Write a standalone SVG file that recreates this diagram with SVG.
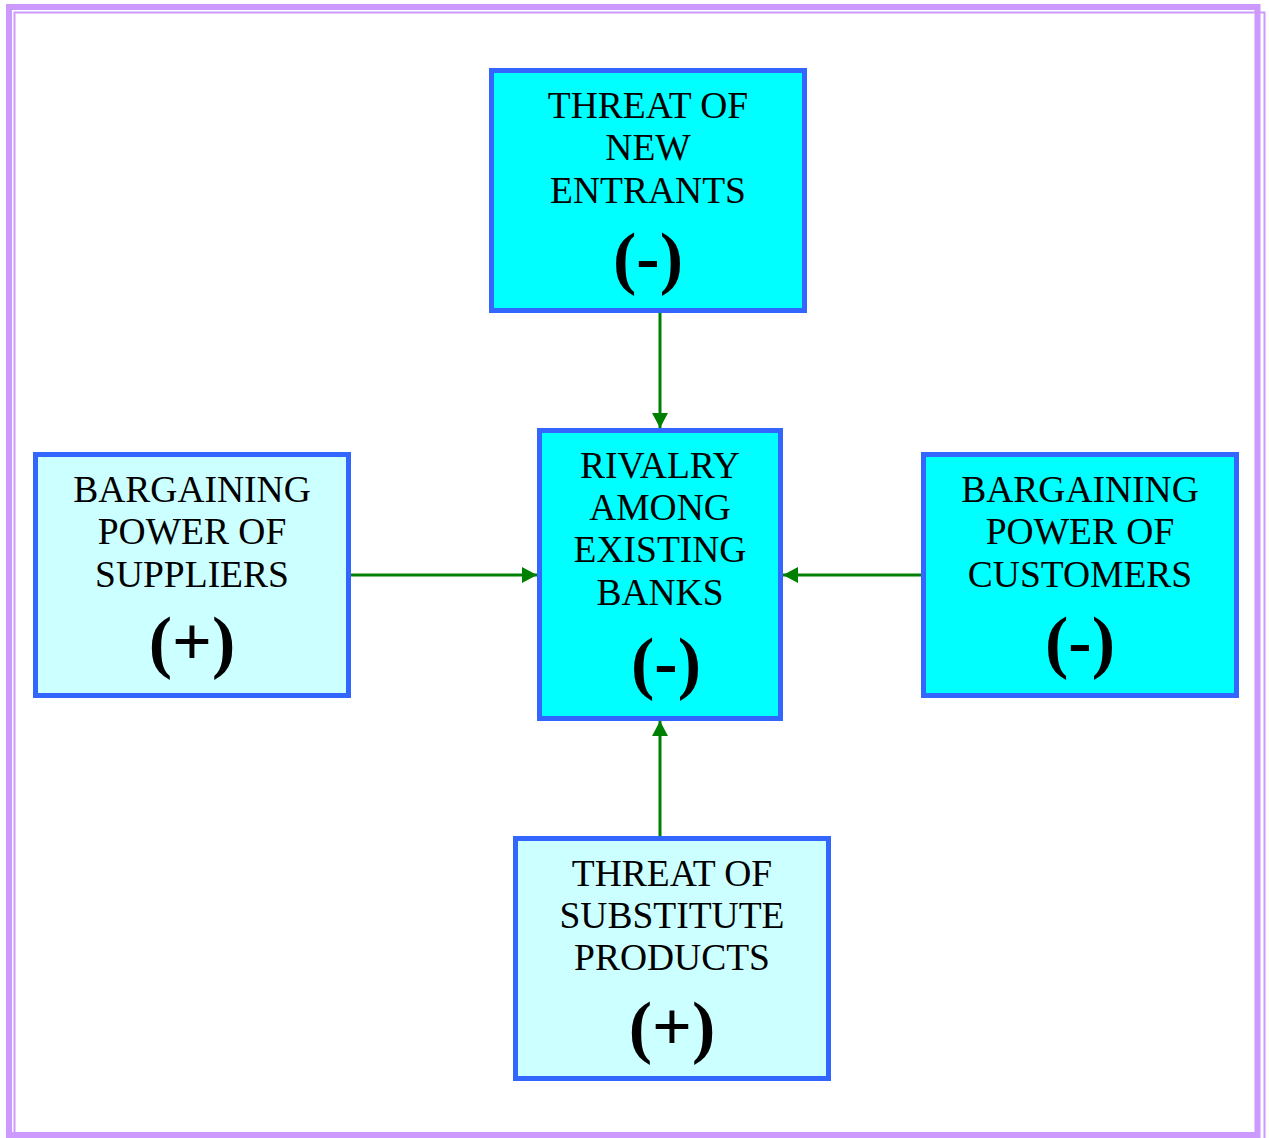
<svg xmlns="http://www.w3.org/2000/svg" width="1269" height="1138" viewBox="0 0 1269 1138">
<style>
.box{stroke:#3366FF;stroke-width:5}
.dark{fill:#00FFFF}
.light{fill:#CCFFFF}
.c{stroke:#008000;stroke-width:3;fill:none}
</style>
<defs>
<marker id="ah" markerWidth="16" markerHeight="16" viewBox="0 0 16 16" refX="15" refY="8" orient="auto" markerUnits="userSpaceOnUse">
<path d="M0,0 L15,8 L0,16 Z" fill="#008000"/>
</marker>
</defs>
<rect width="1269" height="1138" fill="#fff"/>
<g id="frame" fill="none" stroke="#CC99FF">
<rect x="9" y="7" width="1248.5" height="1128" stroke-width="6"/>
<rect x="14.5" y="12.5" width="1250" height="1135" stroke-width="2"/>
</g>
<g id="connectors">
<line class="c" x1="660" y1="313" x2="660" y2="428" marker-end="url(#ah)"/>
<line class="c" x1="351" y1="575" x2="537" y2="575" marker-end="url(#ah)"/>
<line class="c" x1="921" y1="575" x2="783" y2="575" marker-end="url(#ah)"/>
<line class="c" x1="660" y1="836" x2="660" y2="721" marker-end="url(#ah)"/>
</g>
<g font-family="'Liberation Serif', 'Times New Roman', Times, serif" fill="#000" text-anchor="middle">
<g id="top">
<rect class="box dark" x="491.5" y="70.5" width="313" height="240"/>
<g font-size="37.5"><text x="648" y="118">THREAT OF</text>
<text x="648" y="160">NEW</text>
<text x="648" y="203">ENTRANTS</text></g>
<text x="648" y="281" font-size="70" font-weight="bold">(-)</text>
</g>
<g id="center">
<rect class="box dark" x="539.5" y="430.5" width="241" height="288"/>
<g font-size="37.5"><text x="660" y="478">RIVALRY</text>
<text x="660" y="520">AMONG</text>
<text x="660" y="562">EXISTING</text>
<text x="660" y="605">BANKS</text></g>
<text x="666" y="686" font-size="70" font-weight="bold">(-)</text>
</g>
<g id="left">
<rect class="box light" x="35.5" y="454.5" width="313" height="241"/>
<g font-size="37.5"><text x="192" y="502">BARGAINING</text>
<text x="192" y="544">POWER OF</text>
<text x="192" y="587">SUPPLIERS</text></g>
<text x="192" y="665" font-size="70" font-weight="bold">(+)</text>
</g>
<g id="right">
<rect class="box dark" x="923.5" y="454.5" width="313" height="241"/>
<g font-size="37.5"><text x="1080" y="502">BARGAINING</text>
<text x="1080" y="544">POWER OF</text>
<text x="1080" y="587">CUSTOMERS</text></g>
<text x="1080" y="665" font-size="70" font-weight="bold">(-)</text>
</g>
<g id="bottom">
<rect class="box light" x="515.5" y="838.5" width="313" height="240"/>
<g font-size="37.5"><text x="672" y="886">THREAT OF</text>
<text x="672" y="928">SUBSTITUTE</text>
<text x="672" y="970">PRODUCTS</text></g>
<text x="672" y="1050" font-size="70" font-weight="bold">(+)</text>
</g>
</g>
</svg>
